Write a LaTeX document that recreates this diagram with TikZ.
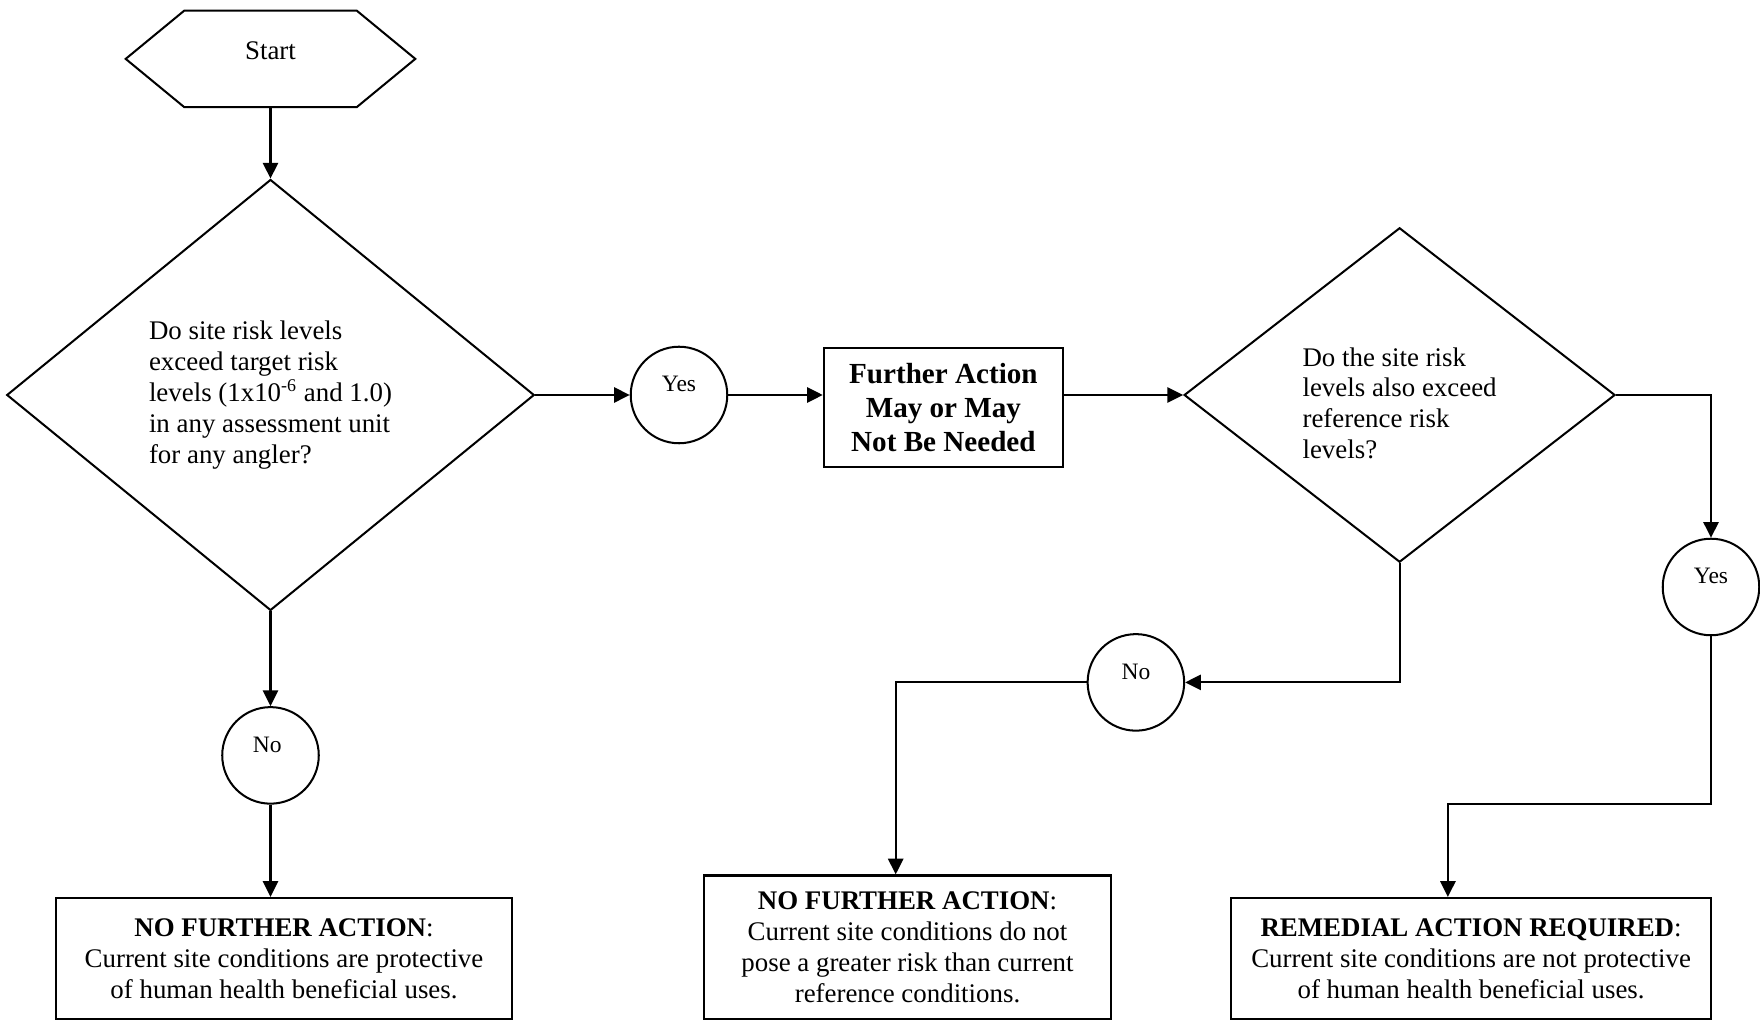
\documentclass[tikz,border=0pt]{standalone}
\usepackage{fontspec}
\setmainfont{Liberation Serif}
\usetikzlibrary{shapes.geometric,arrows.meta}
\begin{document}
\begin{tikzpicture}[x=0.44643pt,y=-0.44643pt,
  base/.style={font=\fontsize{12}{13.8}\selectfont},
  conn/.style={line width=0.9pt,-{Triangle[length=7pt,width=6.8pt]}},
  plain/.style={line width=0.9pt},
  decision/.style={diamond,draw,line width=0.9pt,inner sep=0pt},
  answer/.style={circle,draw,line width=0.9pt,inner sep=0pt,minimum size=43.1pt,
    font=\fontsize{10.5}{12}\selectfont,text height=7pt,text depth=10pt},
  outcome/.style={rectangle,draw,line width=1pt,align=center,inner sep=0pt,base},
]
\useasboundingbox (0,0) rectangle (1760,1020);

% Start hexagon
\node[base,inner sep=0pt,minimum width=76.7pt,minimum height=42.6pt,
  text height=8pt,text depth=7.5pt] (start) at (270.5,58.9) {Start};
\draw[plain] (start.north west) -- (start.north east) -- ([xshift=26.1pt]start.east)
  -- (start.south east) -- (start.south west) -- ([xshift=-26.1pt]start.west) -- cycle;

% Decisions
\node[decision,minimum width=235.5pt,minimum height=192.4pt,
  label={[base,align=left]center:{Do site risk levels\\exceed target risk\\levels (1x10\textsuperscript{-6} and 1.0)\\in any assessment unit\\for any angler?}}]
  (d1) at (270.5,395) {};
\node[decision,minimum width=192.4pt,minimum height=149.3pt,
  label={[base,align=left,yshift=-3.7pt]center:{Do the site risk\\levels also exceed\\reference risk\\levels?}}]
  (d2) at (1399.6,395) {};

% Answers
\node[answer] (yes1) at (679,395) {Yes};
\node[answer] (yes2) at (1711,587) {Yes};
\node[answer] (no1) at (270.5,755.4) {\hspace*{-3pt}No};
\node[answer] (no2) at (1135.9,682.4) {No};

% Outcomes
\node[outcome,minimum width=106.7pt,minimum height=53.1pt,
  font=\fontsize{13}{15}\selectfont\bfseries] (fa) at (943.4,407.5)
  {Further Action\\May or May\\Not Be Needed};
\node[outcome,minimum width=203.4pt,minimum height=54pt] (boxL) at (284,958.5)
  {\textbf{NO FURTHER ACTION}:\\Current site conditions are protective\\of human health beneficial uses.};
\node[outcome,minimum width=181.9pt,minimum height=64.1pt] (boxM) at (907.5,947.3)
  {\textbf{NO FURTHER ACTION}:\\Current site conditions do not\\pose a greater risk than current\\reference conditions.};
\node[outcome,minimum width=214.3pt,minimum height=54pt] (boxR) at (1471.1,958.5)
  {\textbf{REMEDIAL ACTION REQUIRED}:\\Current site conditions are not protective\\of human health beneficial uses.};

\coordinate (r1) at (1447.9,803.6);
\coordinate (mtop) at (895.7,875.5);

% Connectors
\draw[conn] (start.south) -- (d1.north);
\draw[conn] (d1.east) -- (yes1.west);
\draw[conn] (yes1.east) -- (yes1.east -| fa.west);
\draw[conn] (d2.west -| fa.east) -- (d2.west);
\draw[conn] (d2.east) -| (yes2.north);
\draw[conn] (yes2.south) |- (r1) -- (r1 |- boxR.north);
\draw[conn] (d2.south) |- (no2.east);
\draw[conn] (no2.west) -| (mtop |- boxM.north);
\draw[conn] (d1.south) -- (no1.north);
\draw[conn] (no1.south) -- (no1.south |- boxL.north);
\end{tikzpicture}
\end{document}
